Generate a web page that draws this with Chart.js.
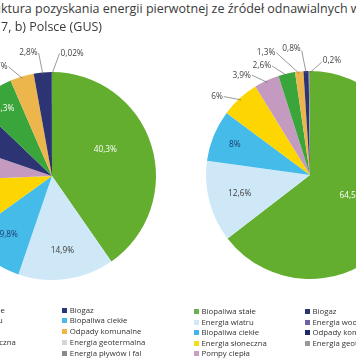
<!DOCTYPE html>
<html><head><meta charset="utf-8">
<script src="https://cdn.jsdelivr.net/npm/chart.js@4.4.1/dist/chart.umd.min.js"></script>
<style>
html,body{margin:0;padding:0;background:#fff;overflow:hidden;width:356px;height:364px;}
#stage{position:relative;width:356px;height:364px;overflow:hidden;font-family:"Open Sans",sans-serif;}
canvas{position:absolute;}
.title{position:absolute;white-space:nowrap;font-size:12.5px;color:#3a3a3a;line-height:18px;}
.leg{position:absolute;white-space:nowrap;font-size:7.8px;line-height:10px;color:#333;}
.sw{position:absolute;width:5px;height:5px;}
</style></head><body><div id="stage">
<canvas id="ue" width="300" height="300" style="left:-98px;top:26px"></canvas>
<canvas id="pl" width="300" height="300" style="left:160px;top:25px"></canvas>
</div>
<script>
// ---- DATA ----
const titleLine1 = 'Rys. 1. Struktura pozyskania energii pierwotnej ze źródeł odnawialnych w a) UE-28';
const titleLine2 = 'w 2017, b) Polsce (GUS)';

const categoriesUE = ['Biopaliwa stałe','Energia wiatru','Biopaliwa ciekłe','Energia słoneczna','Pompy ciepła','Biogaz','Energia wody','Odpady komunalne','Energia geotermalna','Energia pływów i fal'];
const valuesUE = [40.3, 14.9, 9.8, 9.3, 5.9, 6.9, 6.3, 3.7, 2.8, 0.02];
const sliceColorsUE = ['#63ad2f','#cfe8f7','#45bbea','#fdd500','#c49ac0','#2d3473','#3aa53a','#ecb64c','#2d3473','#9e9e9e'];

const categoriesPL = ['Biopaliwa stałe','Energia wiatru','Biopaliwa ciekłe','Energia słoneczna','Pompy ciepła','Biogaz','Energia wody','Odpady komunalne','Energia geotermalna'];
const valuesPL = [64.5, 12.6, 8, 6, 3.9, 2.6, 1.3, 0.8, 0.2];
const sliceColorsPL = ['#63ad2f','#cfe8f7','#45bbea','#fdd500','#c49ac0','#3aa53a','#ecb64c','#2d3473','#9e9e9e'];

// legend (two columns each)
const legendUECol1 = ['Biopaliwa stałe','Energia wiatru','Energia wody','Energia słoneczna','Pompy ciepła'];
const legendUECol1Colors = ['#63ad2f','#cfe8f7','#3aa53a','#fdd500','#c49ac0'];
const legendUECol2 = ['Biogaz','Biopaliwa ciekłe','Odpady komunalne','Energia geotermalna','Energia pływów i fal'];
const legendUECol2Colors = ['#2b3878','#4cb9e8','#efb845','#d6d6d6','#8a8a8a'];
const legendPLCol1 = ['Biopaliwa stałe','Energia wiatru','Biopaliwa ciekłe','Energia słoneczna','Pompy ciepła'];
const legendPLCol1Colors = ['#6ab04c','#cfe7f7','#3fb7ea','#f5dc1a','#c9a0c4'];
const legendPLCol2 = ['Biogaz','Energia wody','Odpady komunalne','Energia geotermalna'];
const legendPLCol2Colors = ['#2e3470','#6b63a3','#1e2868','#999999'];

// ---- LABEL LAYOUT (styles, not data) ----
const labelsUE = [
  {inside:true, r:0.57, angle:64, color:'#ffffff'},
  {inside:true, r:0.72, color:'#3b3b3b'},
  {inside:true, r:0.70, color:'#1d3b6b'},
  {inside:true, r:0.70, color:'#3b3b3b'},
  {inside:true, r:0.70, color:'#3b3b3b'},
  {inside:true, r:0.75, color:'#ffffff'},
  {inside:true, r:0.79, color:'#ffffff'},
  {angle:338.3, r:1.13, side:'left'},
  {angle:353.8, r:1.19, side:'left'},
  {angle:3.5, r:1.18, side:'right'}
];
const labelsPL = [
  {inside:true, r:0.44, color:'#ffffff'},
  {inside:true, r:0.70, color:'#3b3b3b'},
  {inside:true, r:0.78, color:'#1d3b6b'},
  {angle:312.3, r:1.12, side:'left'},
  {angle:329.8, r:1.11, side:'left'},
  {angle:340.8, r:1.11, side:'left'},
  {angle:344.6, r:1.22, side:'left'},
  {angle:356.2, r:1.20, side:'left', dy:-2},
  {angle:5.9, r:1.09, side:'right', dy:-2}
];

const fmt = v => String(v).replace('.', ',') + '%';

const sliceLabels = {
  id:'sliceLabels',
  afterDatasetsDraw(chart, args, opts){
    const ctx = chart.ctx;
    const meta = chart.getDatasetMeta(0);
    const vals = chart.data.datasets[0].data;
    meta.data.forEach((arc,i)=>{
      const c = opts.items[i]; if(!c) return;
      const p = arc.getProps(['x','y','startAngle','endAngle','outerRadius'], true);
      const R = p.outerRadius, mid = (p.startAngle+p.endAngle)/2;
      const text = fmt(vals[i]);
      ctx.save();
      ctx.font = '8.3px "Open Sans", sans-serif';
      ctx.textBaseline = 'middle';
      if(c.inside){
        const a = c.angle!=null ? (c.angle-90)*Math.PI/180 : mid;
        ctx.fillStyle = c.color; ctx.textAlign = 'center';
        ctx.fillText(text, p.x+Math.cos(a)*R*c.r, p.y+Math.sin(a)*R*c.r);
      } else {
        const a0 = (c.angle-90)*Math.PI/180;
        const sx = p.x+Math.cos(a0)*R*c.r, sy = p.y+Math.sin(a0)*R*c.r;
        const ex = p.x+Math.cos(mid)*R*0.98, ey = p.y+Math.sin(mid)*R*0.98;
        ctx.strokeStyle = '#707070'; ctx.lineWidth = 0.7;
        ctx.beginPath(); ctx.moveTo(sx,sy); ctx.lineTo(ex,ey); ctx.stroke();
        ctx.fillStyle = '#444';
        if(c.side==='left'){ ctx.textAlign='right'; ctx.fillText(text, sx-1, sy+(c.dy||0)); }
        else { ctx.textAlign='left'; ctx.fillText(text, sx+1, sy+(c.dy||0)); }
      }
      ctx.restore();
    });
  }
};

function makePie(id, cats, vals, colors, items){
  return new Chart(document.getElementById(id), {
    type:'pie',
    data:{labels:cats, datasets:[{data:vals, backgroundColor:colors, borderWidth:0}]},
    options:{
      responsive:false, animation:false,
      layout:{padding:46},
      plugins:{legend:{display:false}, tooltip:{enabled:false}, sliceLabels:{items}}
    },
    plugins:[sliceLabels]
  });
}
makePie('ue', categoriesUE, valuesUE, sliceColorsUE, labelsUE);
makePie('pl', categoriesPL, valuesPL, sliceColorsPL, labelsPL);

// ---- TITLE ----
const stage = document.getElementById('stage');
const mctx = document.createElement('canvas').getContext('2d');
mctx.font = '12.5px "Open Sans", sans-serif';
function addTitle(text, visibleFrom, top){
  const d = document.createElement('div');
  d.className = 'title'; d.textContent = text;
  const pre = text.slice(0, text.indexOf(visibleFrom));
  d.style.left = (-mctx.measureText(pre).width + 1) + 'px';
  d.style.top = top + 'px';
  stage.appendChild(d);
}
addTitle(titleLine1, 'ktura', 0);
addTitle(titleLine2, '7, b)', 18);

// ---- LEGENDS ----
function addCol(names, colors, swX, y0, step){
  names.forEach((n,i)=>{
    const cy = y0 + i*step;
    const s = document.createElement('div');
    s.className='sw'; s.style.left=swX+'px'; s.style.top=(cy-2.5)+'px'; s.style.background=colors[i];
    stage.appendChild(s);
    const t = document.createElement('div');
    t.className='leg'; t.textContent=n; t.style.left=(swX+7.5)+'px'; t.style.top=(cy-5.5)+'px';
    stage.appendChild(t);
  });
}
addCol(legendUECol1, legendUECol1Colors, -57, 310, 10.8);
addCol(legendUECol2, legendUECol2Colors, 62.3, 310, 10.8);
addCol(legendPLCol1, legendPLCol1Colors, 194, 311.5, 10.5);
addCol(legendPLCol2, legendPLCol2Colors, 305, 311.5, 10.5);
</script>
</body></html>
